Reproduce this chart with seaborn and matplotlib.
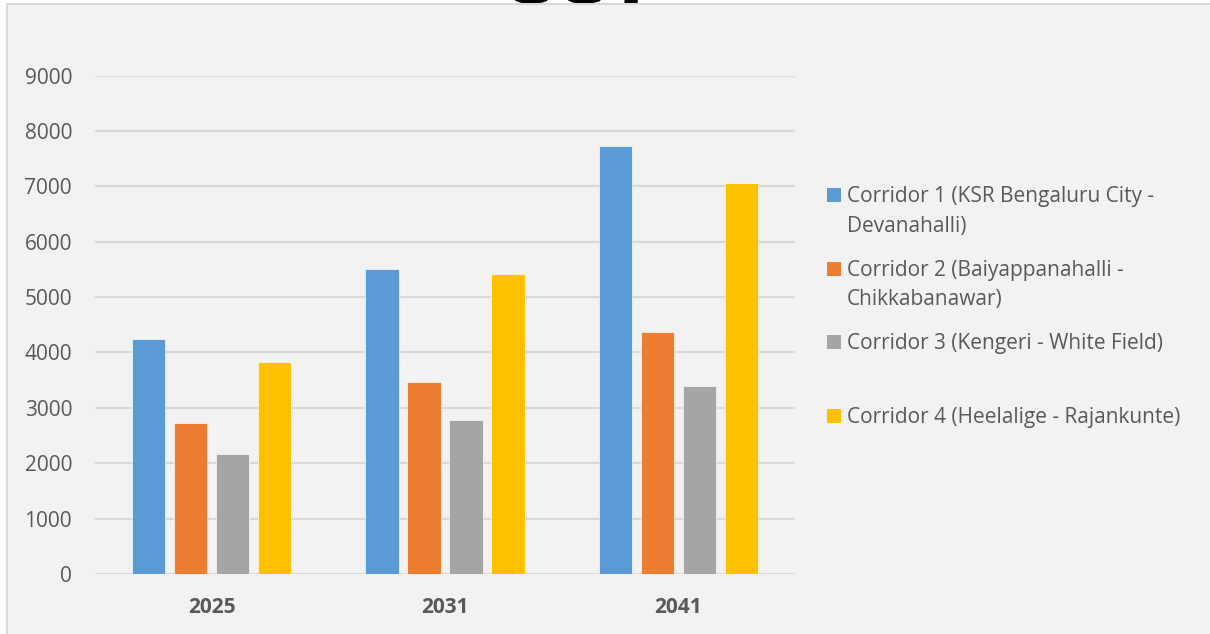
import matplotlib
matplotlib.use("Agg")
import matplotlib.pyplot as plt
from matplotlib.patches import Rectangle
import pandas as pd
import seaborn as sns

# Projected ridership by corridor and horizon year
years = ["2025", "2031", "2041"]
corridors = [
    "Corridor 1 (KSR Bengaluru City -\nDevanahalli)",
    "Corridor 2 (Baiyappanahalli -\nChikkabanawar)",
    "Corridor 3 (Kengeri - White Field)",
    "Corridor 4 (Heelalige - Rajankunte)",
]
corridor1 = [4240, 5515, 7735]
corridor2 = [2720, 3460, 4370]
corridor3 = [2165, 2780, 3390]
corridor4 = [3825, 5425, 7055]
colors = ["#5B9BD5", "#ED7D31", "#A5A5A5", "#FFC000"]
y_ticks = [0, 1000, 2000, 3000, 4000, 5000, 6000, 7000, 8000, 9000]
title = "CCT"

series = [corridor1, corridor2, corridor3, corridor4]
df = pd.DataFrame(
    [(y, c, v) for c, vals in zip(corridors, series) for y, v in zip(years, vals)],
    columns=["Year", "Corridor", "Ridership"],
)

sns.set_theme(style="white")
plt.rcParams["font.family"] = ["Open Sans", "DejaVu Sans"]

W, H = 1210, 634
fig = plt.figure(figsize=(W / 100, H / 100), dpi=100, facecolor="white")

# chart panel background with a light frame (runs off the right/bottom edges)
panel = Rectangle((7 / W, -0.1), 1.2, 1.1 - 4 / H, transform=fig.transFigure,
                  facecolor="#F2F2F2", edgecolor="#D9D9D9", linewidth=1.5, zorder=-10)
fig.patches.append(panel)

# large heading above the panel; the panel covers everything below its top edge
fig.text(497 / W, 1 - 3 / H, title, fontsize=63, fontweight="bold", color="black",
         ha="left", va="baseline", family=["Open Sans", "DejaVu Sans"], zorder=-20)

ax = fig.add_axes([95 / W, (H - 574) / H, 700 / W, (574 - 75.5) / H], zorder=1)
ax.set_facecolor("none")
sns.barplot(data=df, x="Year", y="Ridership", hue="Corridor", hue_order=corridors,
            palette=colors, saturation=1, width=0.72, gap=0.21, legend=False,
            edgecolor="#FAFAFA", linewidth=0.5, ax=ax)

ax.set_ylim(0, 9000)
ax.set_yticks(y_ticks)
ax.set_yticklabels([str(t) for t in y_ticks])
ax.set_xlim(-0.5, 2.5)
ax.set_xlabel("")
ax.set_ylabel("")
ax.yaxis.grid(True, color="#D9D9D9", linewidth=1.5)
ax.set_axisbelow(True)
for s in ax.spines.values():
    s.set_visible(False)
ax.tick_params(axis="both", length=0, pad=16.5, labelsize=15, labelcolor="#595959")
for lbl in ax.get_xticklabels():
    lbl.set_fontweight("bold")

# legend: square swatch beside each label, labels top-aligned in equal slots
baselines = [202.3, 275.8, 349.3, 423.0]
for name, col, yb in zip(corridors, colors, baselines):
    fig.patches.append(Rectangle((827 / W, 1 - yb / H), 14 / W, 14 / H,
                                 transform=fig.transFigure, facecolor=col,
                                 edgecolor="none", zorder=2))
    lines = name.split("\n")
    for i, line in enumerate(lines):
        fig.text(847 / W, 1 - (yb + i * 29.4) / H, line, fontsize=15, color="#595959",
                 ha="left", va="baseline")

fig.savefig("out.png", dpi=100, facecolor="white")
